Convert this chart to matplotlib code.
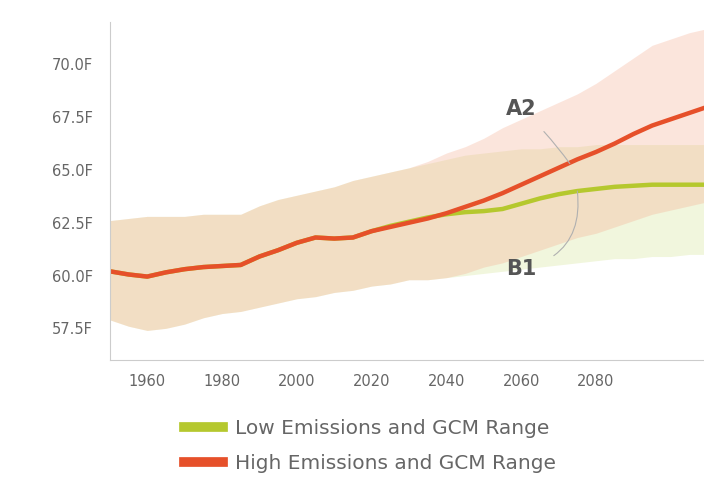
import matplotlib
matplotlib.use("Agg")
import matplotlib.pyplot as plt
from matplotlib.lines import Line2D

years = list(range(1950, 2111, 5))

high_mean = [60.2, 60.05, 59.95, 60.15, 60.3, 60.4, 60.45, 60.5, 60.9, 61.2, 61.55, 61.8,
             61.75, 61.8, 62.1, 62.3, 62.5, 62.7, 62.95, 63.25, 63.55, 63.9, 64.3, 64.7,
             65.1, 65.5, 65.85, 66.25, 66.7, 67.1, 67.4, 67.7, 68.0]
low_mean = [60.2, 60.05, 59.95, 60.15, 60.3, 60.4, 60.45, 60.5, 60.9, 61.2, 61.55, 61.8,
            61.75, 61.8, 62.1, 62.35, 62.55, 62.75, 62.9, 63.0, 63.05, 63.15, 63.4, 63.65,
            63.85, 64.0, 64.1, 64.2, 64.25, 64.3, 64.3, 64.3, 64.3]

high_upper = [62.6, 62.7, 62.8, 62.8, 62.8, 62.9, 62.9, 62.9, 63.3, 63.6, 63.8, 64.0,
              64.2, 64.5, 64.7, 64.9, 65.1, 65.4, 65.8, 66.1, 66.5, 67.0, 67.4, 67.8,
              68.2, 68.6, 69.1, 69.7, 70.3, 70.9, 71.2, 71.5, 71.7]
high_lower = [57.9, 57.6, 57.4, 57.5, 57.7, 58.0, 58.2, 58.3, 58.5, 58.7, 58.9, 59.0,
              59.2, 59.3, 59.5, 59.6, 59.8, 59.8, 59.9, 60.1, 60.4, 60.6, 60.9, 61.2,
              61.5, 61.8, 62.0, 62.3, 62.6, 62.9, 63.1, 63.3, 63.5]
low_upper = [62.6, 62.7, 62.8, 62.8, 62.8, 62.9, 62.9, 62.9, 63.3, 63.6, 63.8, 64.0,
             64.2, 64.5, 64.7, 64.9, 65.1, 65.3, 65.5, 65.7, 65.8, 65.9, 66.0, 66.0,
             66.1, 66.1, 66.2, 66.2, 66.2, 66.2, 66.2, 66.2, 66.2]
low_lower = [57.9, 57.6, 57.4, 57.5, 57.7, 58.0, 58.2, 58.3, 58.5, 58.7, 58.9, 59.0,
             59.2, 59.3, 59.5, 59.6, 59.8, 59.8, 59.9, 60.0, 60.1, 60.2, 60.3, 60.4,
             60.5, 60.6, 60.7, 60.8, 60.8, 60.9, 60.9, 61.0, 61.0]

y_ticks = [57.5, 60.0, 62.5, 65.0, 67.5, 70.0]
x_ticks = [1960, 1980, 2000, 2020, 2040, 2060, 2080]

green = "#b5c82e"
red = "#e6502a"
gray = "#666666"

fig = plt.figure(figsize=(7.04, 4.8), dpi=100)
ax = fig.add_axes([0.156, 0.25, 0.85, 0.704])

ax.fill_between(years, low_lower, low_upper, color="#d2e38f", alpha=0.3, lw=0)
ax.fill_between(years, high_lower, high_upper, color="#f5a98c", alpha=0.3, lw=0)
ax.plot(years, low_mean, color=green, lw=3.2, solid_capstyle="butt")
ax.plot(years, high_mean, color=red, lw=3.2, solid_capstyle="butt")

ax.annotate("A2", xy=(2073, 65.3), xytext=(2060, 67.9), fontsize=15, fontweight="bold",
            color="#555555", ha="center", va="center",
            arrowprops=dict(arrowstyle="-", color="#b0b0b0", lw=0.8,
                            connectionstyle="arc3,rad=-0.05", shrinkA=10, shrinkB=0))
ax.annotate("B1", xy=(2075, 64.0), xytext=(2060, 60.3), fontsize=15, fontweight="bold",
            color="#555555", ha="center", va="center",
            arrowprops=dict(arrowstyle="-", color="#b0b0b0", lw=0.8,
                            connectionstyle="arc3,rad=0.45", shrinkA=12, shrinkB=0))

ax.set_xlim(1950, 2110)
ax.set_ylim(56.0, 72.0)
ax.set_xticks(x_ticks)
ax.set_yticks(y_ticks)
ax.set_yticklabels(["%.1fF" % v for v in y_ticks])
ax.tick_params(length=0, labelsize=10.5, labelcolor=gray)
ax.tick_params(axis="y", pad=12)
ax.tick_params(axis="x", pad=10)
for side in ["top", "right"]:
    ax.spines[side].set_visible(False)
for side in ["left", "bottom"]:
    ax.spines[side].set_color("#cccccc")

handles = [Line2D([], [], color=green, lw=7), Line2D([], [], color=red, lw=7)]
fig.legend(handles, ["Low Emissions and GCM Range", "High Emissions and GCM Range"],
           loc="upper left", bbox_to_anchor=(0.262, 0.127), frameon=False,
           fontsize=14.5, labelcolor=gray, handlelength=1.9, handletextpad=0.6,
           labelspacing=0.8, borderpad=0, borderaxespad=0)

fig.savefig("out.png", dpi=100)
